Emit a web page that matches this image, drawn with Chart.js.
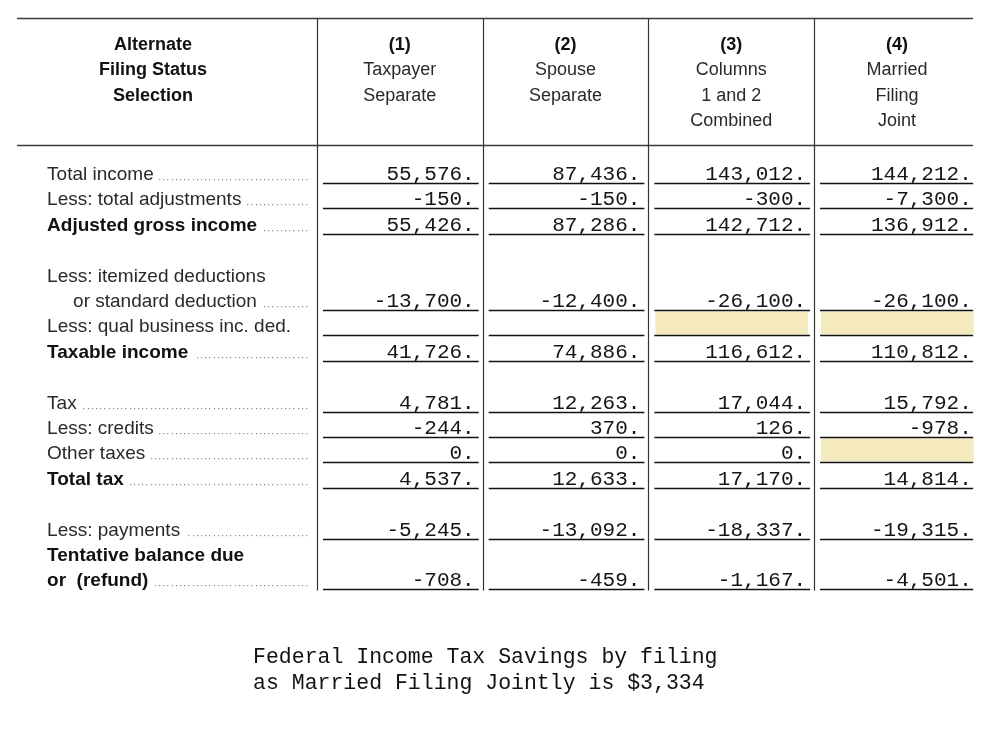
<!DOCTYPE html>
<html><head><meta charset="utf-8">
<script src="https://cdn.jsdelivr.net/npm/chart.js@4.4.1/dist/chart.umd.min.js"></script>
<style>html,body{margin:0;padding:0;background:#fff}canvas{display:block}</style>
</head><body>
<canvas id="c" width="999" height="745"></canvas>
<script>
// ---- data ----
const rowLabels = [
  "Total income", "Less: total adjustments", "Adjusted gross income", "",
  "Less: itemized deductions", "or standard deduction", "Less: qual business inc. ded.",
  "Taxable income", "", "Tax", "Less: credits", "Other taxes", "Total tax", "",
  "Less: payments", "Tentative balance due", "or  (refund)"
];
const taxpayerSeparate = [55576, -150, 55426, null, null, -13700, null, 41726, null, 4781, -244, 0, 4537, null, -5245, null, -708];
const spouseSeparate   = [87436, -150, 87286, null, null, -12400, null, 74886, null, 12263, 370, 0, 12633, null, -13092, null, -459];
const columnsCombined  = [143012, -300, 142712, null, null, -26100, null, 116612, null, 17044, 126, 0, 17170, null, -18337, null, -1167];
const marriedJoint     = [144212, -7300, 136912, null, null, -26100, null, 110812, null, 15792, -978, null, 14814, null, -19315, null, -4501];
const statusHeader = ["Alternate", "Filing Status", "Selection"];
const columnHeaders = [
  ["(1)", "Taxpayer", "Separate"],
  ["(2)", "Spouse", "Separate"],
  ["(3)", "Columns", "1 and 2", "Combined"],
  ["(4)", "Married", "Filing", "Joint"]
];
const footerLines = ["Federal Income Tax Savings by filing", "as Married Filing Jointly is $3,334"];
const highlightedCells = [[2, 6], [3, 6], [3, 11]]; // [column, row]
const boldRows = [2, 7, 12, 15, 16];
const indentRows = [5];
const leaderRows = [0, 1, 2, 5, 7, 9, 10, 11, 12, 14, 16];
const underlineRows = [0, 1, 2, 5, 6, 7, 9, 10, 11, 12, 14, 16];

// ---- chart ----
const valueColumns = [taxpayerSeparate, spouseSeparate, columnsCombined, marriedJoint];
const TABLE_LEFT = -1.81, TABLE_RIGHT = 3.96, TOP_LINE = -6.5, HEAD_LINE = -1.5, LAST_ROW = rowLabels.length - 1;
const fmt = v => v.toLocaleString('en-US') + '.';

const datasets = valueColumns.map((col, k) => ({
  label: columnHeaders[k].join(' '),
  data: col.map((v, i) => ({x: k + 1, y: i, v: v})),
  pointRadius: 0, showLine: false
}));
datasets.push({
  label: 'labels',
  data: rowLabels.map((t, i) => ({x: TABLE_LEFT, y: i, t: t})),
  pointRadius: 0, showLine: false
});

const tablePlugin = {
  id: 'table',
  beforeDraw(chart) {
    const c = chart.ctx;
    c.save(); c.fillStyle = '#fff'; c.fillRect(0, 0, chart.width, chart.height); c.restore();
  },
  afterDatasetsDraw(chart) {
    const c = chart.ctx, xs = chart.scales.x, ys = chart.scales.y;
    const X = v => xs.getPixelForValue(v), Y = v => ys.getPixelForValue(v);
    c.save();
    // highlighted cells
    c.fillStyle = '#f4eabd';
    highlightedCells.forEach(([k, r]) => {
      const x0 = X(k) + 7, x1 = X(k + 1) - 6;
      const y0 = Y(r - 1) + 1.5, y1 = Y(r) - 1;
      c.fillRect(x0, y0, x1 - x0, y1 - y0);
    });
    // frame lines
    c.strokeStyle = '#3a3a3a'; c.lineWidth = 1.6;
    [TOP_LINE, HEAD_LINE].forEach(r => {
      const y = Math.round(Y(r)) + 0.5;
      c.beginPath(); c.moveTo(X(TABLE_LEFT), y); c.lineTo(X(TABLE_RIGHT), y); c.stroke();
    });
    c.lineWidth = 1.2; c.strokeStyle = '#333';
    for (let k = 0; k < 4; k++) {
      const x = Math.round(X(k)) + 0.5;
      c.beginPath(); c.moveTo(x, Y(TOP_LINE)); c.lineTo(x, Y(LAST_ROW) + 1); c.stroke();
    }
    // underlines
    c.strokeStyle = '#111'; c.lineWidth = 1.3;
    underlineRows.forEach(r => {
      const y = Math.round(Y(r)) + 0.5;
      for (let k = 0; k < 4; k++) {
        const x1 = k === 3 ? X(TABLE_RIGHT) : X(k + 1) - 4;
        c.beginPath(); c.moveTo(X(k) + 6, y); c.lineTo(x1, y); c.stroke();
      }
    });
    // numbers
    c.fillStyle = '#151515'; c.font = "21px 'Liberation Mono'"; c.textAlign = 'right'; c.textBaseline = 'alphabetic';
    for (let k = 0; k < 4; k++) {
      const meta = chart.getDatasetMeta(k);
      meta.data.forEach((el, i) => {
        const v = valueColumns[k][i];
        if (v === null) return;
        c.fillText(fmt(v), el.x - 8, el.y - 3);
      });
    }
    // row labels + leaders
    const lmeta = chart.getDatasetMeta(4);
    c.textAlign = 'left';
    lmeta.data.forEach((el, i) => {
      const t = rowLabels[i];
      if (!t) return;
      c.font = (boldRows.includes(i) ? 'bold ' : '') + "19px 'Liberation Sans'";
      c.fillStyle = boldRows.includes(i) ? '#111' : '#2a2a2a';
      const x = el.x + 30 + (indentRows.includes(i) ? 26 : 0);
      c.fillText(t, x, el.y - 3);
      if (leaderRows.includes(i)) {
        const end = x + c.measureText(t).width + 5;
        c.fillStyle = '#8c8c8c';
        for (let dx = X(0) - 11; dx > end; dx -= 4.2) c.fillRect(Math.round(dx), Math.round(el.y - 4), 1.2, 1.2);
      }
    });
    // headers
    c.textAlign = 'center'; c.textBaseline = 'middle'; c.fillStyle = '#111';
    c.font = "bold 18px 'Liberation Sans'";
    statusHeader.forEach((t, j) => c.fillText(t, X(-0.99), Y(-5.43 + j)));
    columnHeaders.forEach((lines, k) => {
      lines.forEach((t, j) => {
        c.font = (j === 0 ? 'bold ' : '') + "18px 'Liberation Sans'";
        c.fillStyle = j === 0 ? '#111' : '#2a2a2a';
        c.fillText(t, X(k + 0.5), Y(-5.43 + j));
      });
    });
    // footer
    c.textAlign = 'left'; c.textBaseline = 'alphabetic'; c.fillStyle = '#111';
    c.font = "21.5px 'Liberation Mono'";
    footerLines.forEach((t, j) => c.fillText(t, X(-0.386), Y(18.9 + j * 1.02)));
    c.restore();
  }
};

new Chart(document.getElementById('c'), {
  type: 'scatter',
  data: {datasets},
  options: {
    responsive: false, animation: false, devicePixelRatio: 1,
    layout: {padding: 0},
    plugins: {legend: {display: false}, tooltip: {enabled: false}},
    scales: {
      x: {type: 'linear', display: false, min: -1.913, max: 4.116},
      y: {type: 'linear', display: false, reverse: true, min: -7.205, max: 22.126}
    }
  },
  plugins: [tablePlugin]
});
</script>
</body></html>
